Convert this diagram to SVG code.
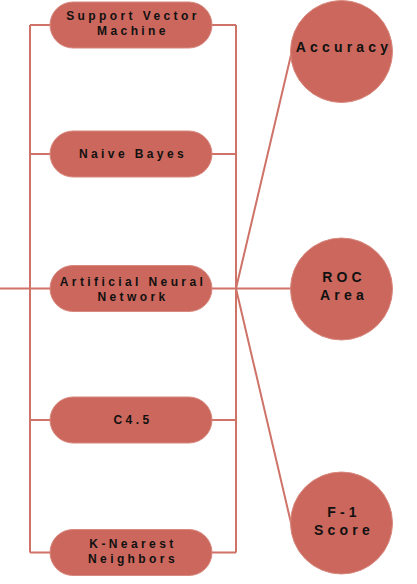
<svg xmlns="http://www.w3.org/2000/svg" width="417" height="584" viewBox="0 0 417 584">
<style>
.pill{fill:#CB675C;stroke:#D8887E;stroke-width:1}
.circ{fill:#CB675C;stroke:#D8887E;stroke-width:1}
.ln{stroke:#CF7268;stroke-width:2;fill:none}
.t{font-family:"Liberation Sans",Arial,sans-serif;font-weight:bold;font-size:12px;letter-spacing:3.4px;fill:#111;text-anchor:middle}
.tc{font-family:"Liberation Sans",Arial,sans-serif;font-weight:bold;font-size:14px;letter-spacing:4.2px;fill:#111;text-anchor:middle}
</style>
<rect width="417" height="584" fill="#fff"/>
<g id="connectors" class="ln">
<path d="M0 288.5H30M30 25V552.5M30 25H50M30 154H50M30 288.5H50M30 420H50M30 552.5H50"/>
<path d="M236 25V552.5M212 25H236M212 154H236M212 288.5H236M212 420H236M212 552.5H236"/>
<path d="M236 288.5L291 55M236 288.5H291M236 288.5L291 523"/>
</g>
<g id="svm"><rect class="pill" x="50" y="2" width="162" height="46" rx="23"/><text class="t" x="133" y="20">Support Vector</text><text class="t" x="133" y="35">Machine</text></g>
<g id="nb"><rect class="pill" x="50" y="131" width="162" height="46" rx="23"/><text class="t" x="133" y="158">Naive Bayes</text></g>
<g id="ann"><rect class="pill" x="50" y="265.5" width="162" height="46" rx="23"/><text class="t" x="133" y="286">Artificial Neural</text><text class="t" x="133" y="301">Network</text></g>
<g id="c45"><rect class="pill" x="50" y="397" width="162" height="46" rx="23"/><text class="t" x="133" y="424">C4.5</text></g>
<g id="knn"><rect class="pill" x="50" y="529.5" width="162" height="46" rx="23"/><text class="t" x="133" y="548">K-Nearest</text><text class="t" x="133" y="563">Neighbors</text></g>
<g id="accuracy"><circle class="circ" cx="341.5" cy="51.5" r="51"/><text class="tc" x="344" y="52">Accuracy</text></g>
<g id="roc"><circle class="circ" cx="341.5" cy="289" r="51"/><text class="tc" x="344" y="282">ROC</text><text class="tc" x="344" y="300">Area</text></g>
<g id="f1"><circle class="circ" cx="341.5" cy="523" r="51"/><text class="tc" x="344" y="517">F-1</text><text class="tc" x="344" y="535">Score</text></g>
</svg>
